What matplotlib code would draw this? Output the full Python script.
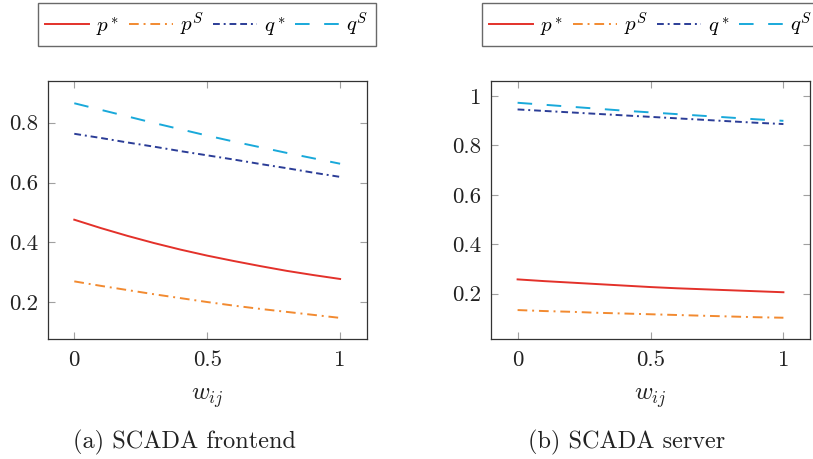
import matplotlib
matplotlib.use("Agg")
import matplotlib.pyplot as plt
import numpy as np

plt.rcParams['mathtext.fontset'] = 'cm'
plt.rcParams['font.family'] = ['cmr10', 'DejaVu Serif']
plt.rcParams['axes.formatter.use_mathtext'] = True

w = [0.0, 0.1, 0.2, 0.3, 0.4, 0.5, 0.6, 0.7, 0.8, 0.9, 1.0]

# (a) SCADA frontend
fe_p_star = [0.476, 0.448, 0.422, 0.398, 0.376, 0.356, 0.338, 0.321, 0.305, 0.291, 0.278]
fe_p_S    = [0.270, 0.255, 0.241, 0.227, 0.214, 0.201, 0.189, 0.178, 0.168, 0.158, 0.148]
fe_q_star = [0.763, 0.749, 0.734, 0.720, 0.705, 0.691, 0.677, 0.662, 0.648, 0.633, 0.619]
fe_q_S    = [0.865, 0.843, 0.821, 0.799, 0.778, 0.757, 0.737, 0.718, 0.699, 0.681, 0.663]

# (b) SCADA server
sv_p_star = [0.258, 0.251, 0.245, 0.239, 0.233, 0.227, 0.222, 0.218, 0.214, 0.210, 0.206]
sv_p_S    = [0.134, 0.130, 0.127, 0.123, 0.120, 0.117, 0.114, 0.111, 0.108, 0.105, 0.103]
sv_q_star = [0.945, 0.939, 0.933, 0.927, 0.921, 0.915, 0.909, 0.903, 0.897, 0.891, 0.886]
sv_q_S    = [0.972, 0.964, 0.956, 0.948, 0.940, 0.933, 0.926, 0.919, 0.912, 0.905, 0.899]

labels = [r'$p^*$', r'$p^S$', r'$q^*$', r'$q^S$']
captions = ['(a) SCADA frontend', '(b) SCADA server']
xticks = [0, 0.5, 1]
xtick_labels = ['0', '0.5', '1']
yticks_a = [0.2, 0.4, 0.6, 0.8]
yticks_b = [0.2, 0.4, 0.6, 0.8, 1.0]
ytick_labels_a = ['0.2', '0.4', '0.6', '0.8']
ytick_labels_b = ['0.2', '0.4', '0.6', '0.8', '1']

colors = ['#e3312a', '#f28a30', '#2b3d97', '#19a9da']
dashes = [None, (5, 2.5, 1, 2.5), (3.5, 2, 1, 2, 3.5, 2), (7.5, 7.5)]
lw = 1.4

fig = plt.figure(figsize=(8.13, 4.59), dpi=100)
W, H = 813, 459

def add_ax(x0, x1, y0, y1):
    return fig.add_axes([x0 / W, 1 - y1 / H, (x1 - x0) / W, (y1 - y0) / H])

ax_a = add_ax(47.7, 366.7, 80.5, 339)
ax_b = add_ax(491, 810, 80.5, 339)

series = [
    (ax_a, [fe_p_star, fe_p_S, fe_q_star, fe_q_S], yticks_a, ytick_labels_a, (0.0775, 0.941)),
    (ax_b, [sv_p_star, sv_p_S, sv_q_star, sv_q_S], yticks_b, ytick_labels_b, (0.017, 1.062)),
]

for ax, data, yt, ytl, ylim in series:
    for vals, c, d, lab in zip(data, colors, dashes, labels):
        if d is None:
            ax.plot(w, vals, color=c, lw=lw, label=lab)
        else:
            ax.plot(w, vals, color=c, lw=lw, dashes=d, label=lab)
    ax.set_xlim(-0.1, 1.1)
    ax.set_ylim(*ylim)
    ax.set_xticks(xticks)
    ax.set_xticklabels(xtick_labels)
    ax.set_yticks(yt)
    ax.set_yticklabels(ytl)
    ax.tick_params(direction='in', length=5, width=0.8, color='#a0a0a0',
                   top=True, right=True, labelsize=16.5, labelcolor='#222222')
    ax.tick_params(axis='x', pad=8)
    ax.tick_params(axis='y', pad=7)
    for s in ax.spines.values():
        s.set_color('#333333')
        s.set_linewidth(0.9)
    ax.set_xlabel(r'$w_{ij}$', fontsize=18, color='#222222', va='center')
    ax.xaxis.set_label_coords(0.5, (339 - 398) / 258.5)

# legends
for x0, ax in [(38, ax_a), (482, ax_b)]:
    leg = fig.legend(handles=ax.get_lines(), labels=labels, ncol=4,
                     loc='upper left', bbox_to_anchor=(x0 / W, 1 - 3.5 / H),
                     fontsize=15, frameon=True, fancybox=False, edgecolor='#444444',
                     handlelength=2.1, handletextpad=0.35, columnspacing=0.45,
                     borderpad=0.35, borderaxespad=0)
    leg.get_frame().set_linewidth(1.0)

fig.text(184 / W, 1 - 442 / H, captions[0], ha='center', va='center', fontsize=17.5, color='#222222')
fig.text(627 / W, 1 - 442 / H, captions[1], ha='center', va='center', fontsize=17.5, color='#222222')

fig.savefig('out.png', dpi=100)
